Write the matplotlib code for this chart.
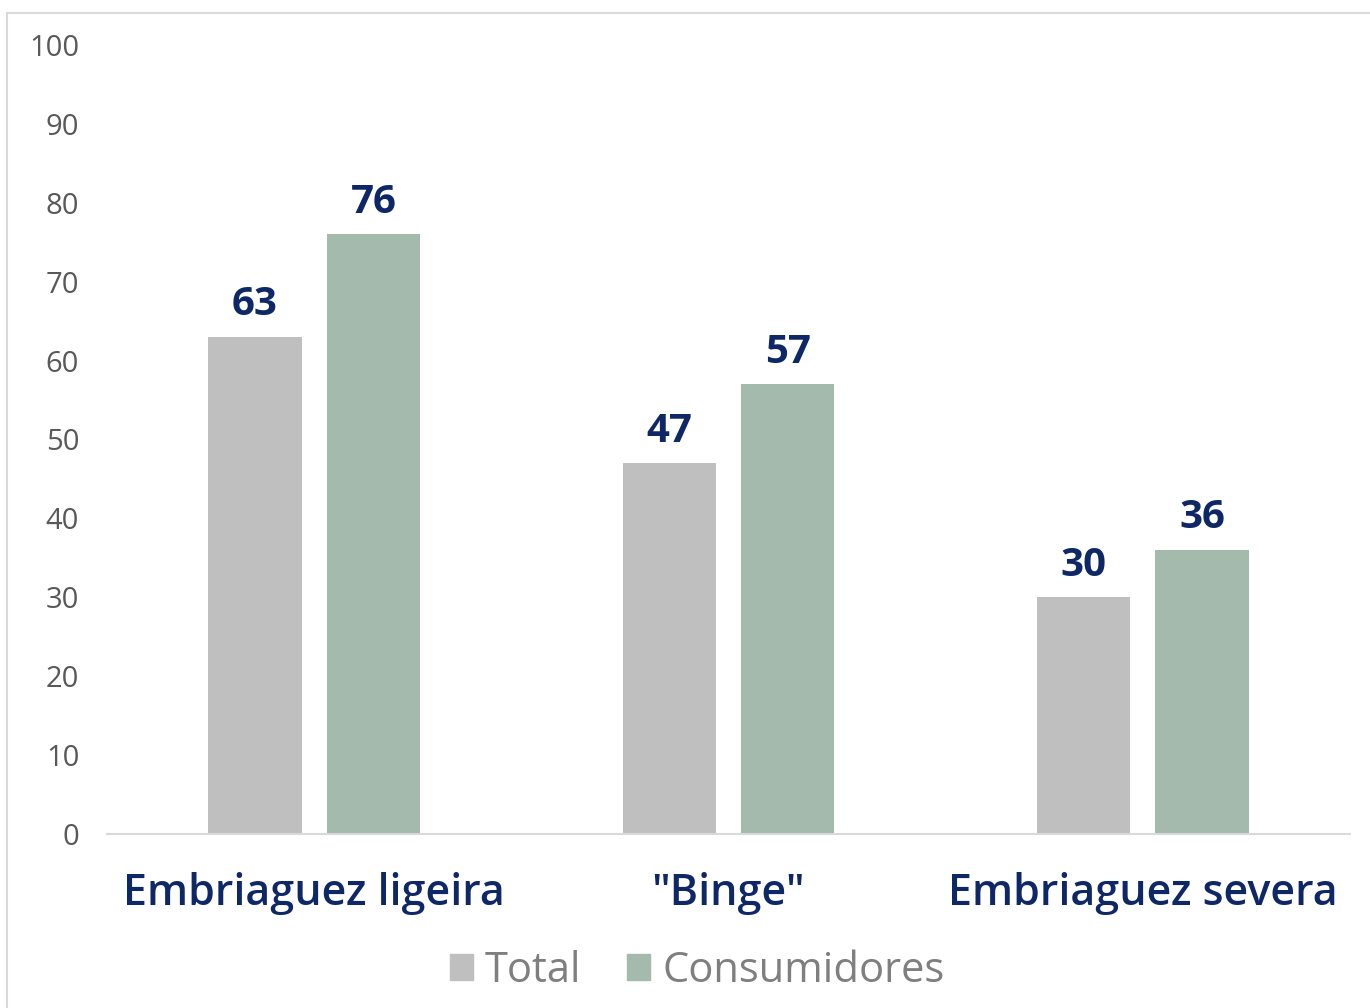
import numpy as np
import matplotlib.pyplot as plt
from matplotlib.patches import Rectangle, Patch


# [Data]________________________________________________________________________

categories = ["Embriaguez ligeira", '"Binge"', "Embriaguez severa"]
total = [63, 47, 30]
consumidores = [76, 57, 36]
series_names = ["Total", "Consumidores"]
y_ticks = [0, 10, 20, 30, 40, 50, 60, 70, 80, 90, 100]

# [Style]_______________________________________________________________________

c_total = "#BFBFBF"
c_cons = "#A3BAAD"
navy = "#0E2766"
grey_txt = "#595959"
legend_txt = "#7F7F7F"

plt.rcParams["font.family"] = ["Open Sans", "DejaVu Sans"]

fig = plt.figure(figsize=(13.70, 10.08), dpi=100)
ax = fig.add_axes([0.0781, 0.1726, 0.9073, 0.7828])

x = np.arange(len(categories))
w = 0.225
off = 0.143

b1 = ax.bar(x - off, total, w, color=c_total, zorder=2)
b2 = ax.bar(x + off, consumidores, w, color=c_cons, zorder=2)

for bars in (b1, b2):
  for rect in bars:
    h = rect.get_height()
    ax.annotate(f"{h:.0f}", (rect.get_x() + rect.get_width() / 2, h),
                xytext=(0, 9), textcoords="offset points",
                ha="center", va="bottom", fontsize=29, fontweight="bold", color=navy)

ax.set_xlim(-0.5, 2.5)
ax.set_ylim(0, 100)
ax.set_yticks(y_ticks)
ax.set_xticks(x)
ax.set_xticklabels(categories, fontsize=31, color=navy, fontweight="semibold")
ax.tick_params(axis="y", length=0, pad=20, labelsize=21, labelcolor=grey_txt)
ax.tick_params(axis="x", length=0, pad=27)

for s in ["top", "right", "left"]:
  ax.spines[s].set_visible(False)
ax.spines["bottom"].set_color("#D9D9D9")
ax.spines["bottom"].set_linewidth(1.5)

handles = [Patch(color=c_total), Patch(color=c_cons)]
leg = fig.legend(handles, series_names, loc="center", bbox_to_anchor=(0.509, 0.037),
                 ncol=2, frameon=False, fontsize=30, handlelength=0.55, handleheight=0.55,
                 handletextpad=0.3, columnspacing=1.1)
for t in leg.get_texts():
  t.set_color(legend_txt)

# outer chart frame
fig.patches.append(Rectangle((0.005, -0.01), 1.2, 0.997, transform=fig.transFigure,
                             fill=False, edgecolor="#D9D9D9", linewidth=1.5))

plt.savefig("out.png", dpi=100)
